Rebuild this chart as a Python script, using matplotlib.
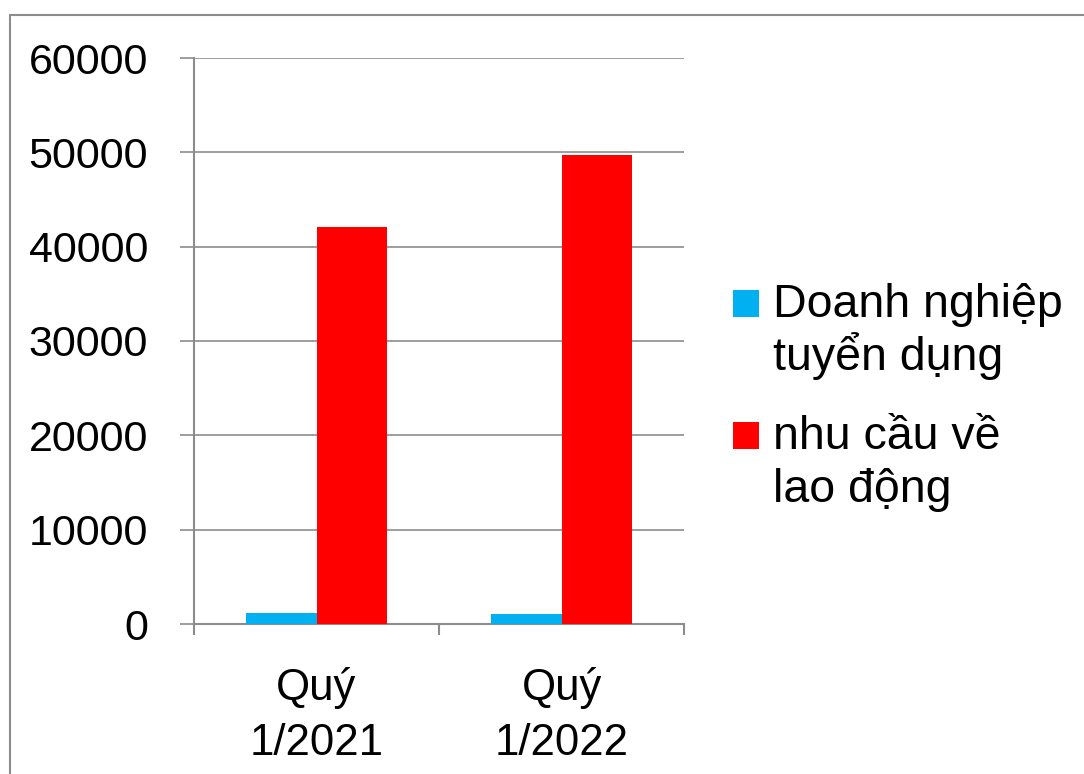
import matplotlib
matplotlib.use("Agg")
import matplotlib.pyplot as plt
from matplotlib.patches import Rectangle
import numpy as np

categories = ["Quý\n1/2021", "Quý\n1/2022"]
series_names = ["Doanh nghiệp\ntuyển dụng", "nhu cầu về\nlao động"]
doanh_nghiep = [1200, 1050]
nhu_cau = [42100, 49700]
colors = ["#00B0F0", "#FF0000"]
yticks = [0, 10000, 20000, 30000, 40000, 50000, 60000]

plt.rcParams['font.family'] = ['Liberation Sans', 'DejaVu Sans']
FSY = 31
FSX = 31.5
LFS = 33.5
GREY = "#8c8c8c"

W, H = 1084, 774
fig = plt.figure(figsize=(W/100, H/100), dpi=100)
ax = fig.add_axes([194/W, 1-624/H, (684-194)/W, (624-58)/H])

x = np.arange(len(categories))
w = 0.286
ax.bar(x - w/2, doanh_nghiep, w, color=colors[0], label=series_names[0], zorder=3)
ax.bar(x + w/2, nhu_cau, w, color=colors[1], label=series_names[1], zorder=3)

ax.set_xlim(-0.5, len(categories) - 0.5)
ax.set_ylim(0, 60000)
ax.set_yticks(yticks)
ax.set_yticklabels([str(v) for v in yticks], fontsize=FSY)
ax.yaxis.grid(True, color=GREY, linewidth=1.2, zorder=0)
ax.set_axisbelow(True)

ax.set_xticks(np.arange(-0.5, len(categories)), minor=False)
ax.set_xticklabels([])
ax.set_xticks(x, minor=True)
ax.set_xticklabels(categories, minor=True, fontsize=FSX, linespacing=1.45)
ax.tick_params(axis='x', which='minor', length=0, pad=31)
ax.tick_params(axis='x', which='major', length=8, width=1.5, color=GREY, direction='out')
ax.tick_params(axis='y', length=10, width=1.2, color=GREY, pad=23)

for s in ['top', 'right']:
    ax.spines[s].set_visible(False)
for s in ['left', 'bottom']:
    ax.spines[s].set_color(GREY)
    ax.spines[s].set_linewidth(1.5)

# legend (handle aligned with first line of each entry, as in the reference)
sq_top = [290, 422]
for i, name in enumerate(series_names):
    top = sq_top[i]
    fig.add_artist(Rectangle((733/W, 1-(top+27)/H), 26/W, 27/H,
                             transform=fig.transFigure, facecolor=colors[i], edgecolor='none'))
    for j, line in enumerate(name.split("\n")):
        fig.text(773/W, 1-(top+27+53*j)/H, line, fontsize=LFS, va='baseline', ha='left')

fig.add_artist(Rectangle((10/W, -0.1), 1.2, 1-15/H + 0.1, transform=fig.transFigure,
                         fill=False, edgecolor=GREY, linewidth=1.5))

fig.savefig("out.png", dpi=100)
